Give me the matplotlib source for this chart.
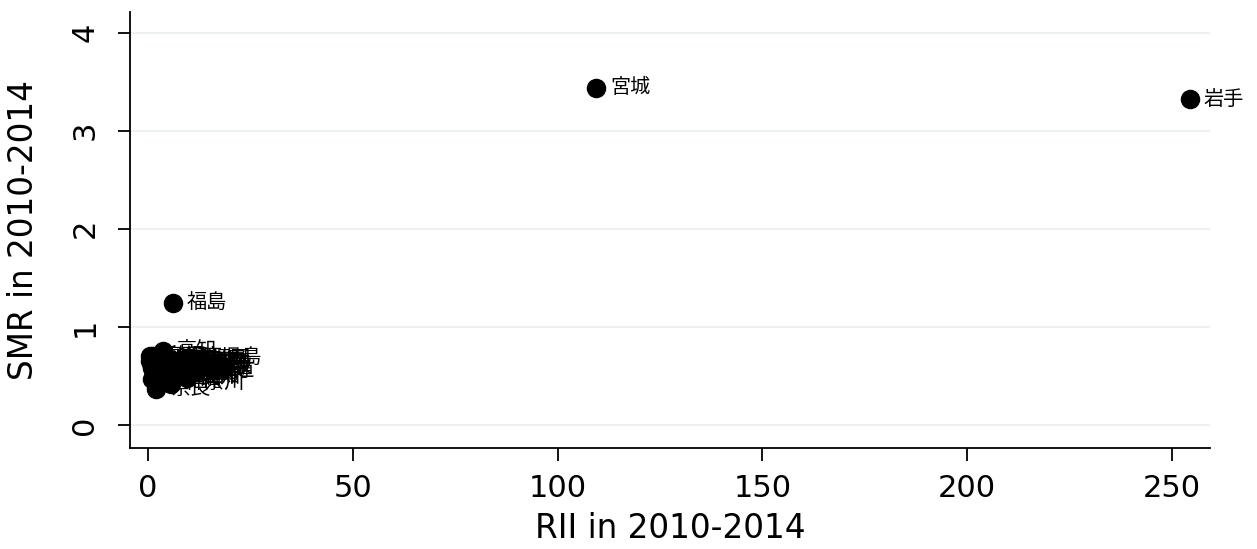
import matplotlib
matplotlib.use("Agg")
import matplotlib.pyplot as plt

# prefecture labels with RII and SMR for 2010-2014
prefs = [
    "北海道", "青森", "岩手", "宮城", "秋田", "山形", "福島", "茨城", "栃木", "群馬",
    "埼玉", "千葉", "東京", "神奈川", "新潟", "富山", "石川", "福井", "山梨", "長野",
    "岐阜", "静岡", "愛知", "三重", "滋賀", "京都", "大阪", "兵庫", "奈良", "和歌山",
    "鳥取", "島根", "岡山", "広島", "山口", "徳島", "香川", "愛媛", "高知", "福岡",
    "佐賀", "長崎", "熊本", "大分", "宮崎", "鹿児島", "沖縄",
]
rii = [
    7.8, 2.5, 254.4, 109.4, 1.2, 3.0, 6.1, 8.0, 10.0, 11.0,
    4.5, 12.0, 10.5, 5.5, 0.8, 2.0, 5.0, 9.0, 1.5, 3.5,
    7.0, 11.5, 9.5, 4.0, 1.0, 5.5, 12.2, 8.0, 2.0, 0.5,
    1.8, 0.6, 6.5, 9.2, 11.2, 3.2, 0.9, 7.5, 3.7, 12.0,
    1.1, 2.7, 5.2, 8.8, 10.4, 9.6, 4.8,
]
smr = [
    0.56, 0.62, 3.32, 3.44, 0.70, 0.66, 1.245, 0.60, 0.58, 0.66,
    0.52, 0.62, 0.54, 0.42, 0.68, 0.64, 0.55, 0.50, 0.60, 0.58,
    0.63, 0.56, 0.48, 0.61, 0.47, 0.52, 0.60, 0.57, 0.37, 0.65,
    0.62, 0.70, 0.55, 0.53, 0.64, 0.66, 0.58, 0.61, 0.755, 0.67,
    0.60, 0.67, 0.63, 0.59, 0.65, 0.68, 0.45,
]

plt.rcParams["font.family"] = ["DejaVu Sans"]

fig = plt.figure(figsize=(12.57, 5.49), dpi=100)
ax = fig.add_axes([0.1034, 0.184, 0.8592, 0.794])

ax.scatter(rii, smr, s=170, color="black", zorder=3)
for name, x, y in zip(prefs, rii, smr):
    ax.annotate(name, (x, y), xytext=(10, 0), textcoords="offset points",
                va="center", ha="left", fontsize=14.5,
                family=["Noto Sans CJK JP", "DejaVu Sans"], zorder=4)

ax.set_xlim(-4.4, 259.3)
ax.set_ylim(-0.235, 4.21)
ax.set_xticks([0, 50, 100, 150, 200, 250])
ax.set_yticks([0, 1, 2, 3, 4])
ax.grid(axis="y", color="#eaf2f3", linewidth=1.5, zorder=0)
ax.set_axisbelow(True)

for side in ["top", "right"]:
    ax.spines[side].set_visible(False)
for side in ["left", "bottom"]:
    ax.spines[side].set_linewidth(1.3)

ax.tick_params(axis="both", length=9, width=1.3, labelsize=22)
ax.tick_params(axis="x", pad=10)
ax.tick_params(axis="y", pad=13)
plt.setp(ax.get_yticklabels(), rotation=90, va="center")

ax.set_xlabel("RII in 2010-2014", fontsize=23.5)
ax.set_ylabel("SMR in 2010-2014", fontsize=23.5)
ax.xaxis.set_label_coords(0.5, -0.147)
ax.yaxis.set_label_coords(-0.083, 0.5)

fig.savefig("out.png", dpi=100, facecolor="white")
